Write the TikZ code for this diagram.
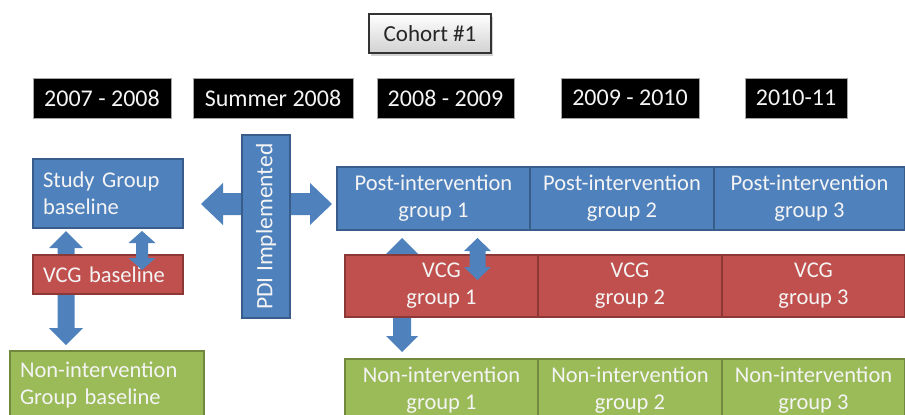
\documentclass[tikz,border=0pt]{standalone}
\usepackage{fontspec}
\setmainfont{Carlito}
\usetikzlibrary{shadows}
\definecolor{bfill}{HTML}{4F81BD}
\definecolor{bline}{HTML}{385D8A}
\definecolor{rfill}{HTML}{C0504D}
\definecolor{rline}{HTML}{8C3836}
\definecolor{gfill}{HTML}{9BBB59}
\definecolor{gline}{HTML}{71893F}
\definecolor{txtw}{HTML}{F4F4F4}
\tikzset{
  base/.style={inner sep=0pt, outer sep=0pt, line width=1.2pt, font=\fontsize{22.5}{27}\selectfont, align=center, text=txtw},
  bluebox/.style={base, fill=bfill, draw=bline},
  redbox/.style={base, fill=rfill, draw=rline},
  greenbox/.style={base, fill=gfill, draw=gline},
  yearbox/.style={base, fill=black, draw=gray!70, line width=0.8pt, minimum height=40pt, font=\fontsize{24}{28}\selectfont},
  cohortbox/.style={base, text=black!85, draw=black!80, line width=2pt, top color=white, bottom color=black!18,
     font=\fontsize{23}{27}\selectfont,
     drop shadow={shadow xshift=2pt, shadow yshift=-3pt, fill=black!35}},
  arrowfill/.style={fill=bfill}
}
\newcommand{\vdarrow}[6]{% cx, ytop, ybot, shaft half, head half, head length
  \fill[arrowfill] (#1,#2) -- (#1+#5,#2+#6) -- (#1+#4,#2+#6) -- (#1+#4,#3-#6) -- (#1+#5,#3-#6) -- (#1,#3)
   -- (#1-#5,#3-#6) -- (#1-#4,#3-#6) -- (#1-#4,#2+#6) -- (#1-#5,#2+#6) -- cycle;}
\newcommand{\hdarrow}[6]{% cy, xleft, xright, shaft half, head half, head length
  \fill[arrowfill] (#2,#1) -- (#2+#6,#1-#5) -- (#2+#6,#1-#4) -- (#3-#6,#1-#4) -- (#3-#6,#1-#5) -- (#3,#1)
   -- (#3-#6,#1+#5) -- (#3-#6,#1+#4) -- (#2+#6,#1+#4) -- (#2+#6,#1+#5) -- cycle;}
\begin{document}
\begin{tikzpicture}[x=1pt,y=-1pt]
\useasboundingbox (0,0) rectangle (905,415);
\begin{scope}
\clip (0,0) rectangle (905,415);
% title
\node[cohortbox, minimum width=122pt, minimum height=39pt] (cohort) at (430,33.5) {Cohort \#1};
% years
\node[yearbox, minimum width=138pt] (y1) at (102,98) {2007 - 2008};
\node[yearbox, minimum width=160pt] (y2) at (273,98) {Summer 2008};
\node[yearbox, minimum width=137pt] (y3) at (445.5,98) {2008 - 2009};
\node[yearbox, minimum width=138pt] (y4) at (630,98) {2009 - 2010};
\node[yearbox, minimum width=102pt] (y5) at (796,98) {2010-11};
% arrows behind boxes
\hdarrow{204}{201}{332}{11}{21}{22}
\vdarrow{66}{231}{345}{8.5}{17}{17}
\vdarrow{402}{238}{352}{9}{16}{16}
% left column
\node[bluebox, minimum width=150pt, minimum height=69pt, text width=130pt, align=left] (study) at (108,193.5) {Study Group\\baseline};
\node[redbox, minimum width=150pt, minimum height=39pt, text width=130pt, align=left] (vcgb) at (108,274.5) {VCG baseline};
\node[greenbox, minimum width=194pt, minimum height=69pt, text width=174pt, align=left] (nonb) at (107,385.5) {Non-intervention\\Group baseline};
\node[bluebox, minimum width=48pt, minimum height=183pt] (pdi) at (266,226.5) {};
\node[base, rotate=90, font=\fontsize{23.5}{27}\selectfont] (pdit) at (pdi.center) {PDI Implemented};
% post-intervention row
\node[bluebox, minimum width=193pt, minimum height=63pt] (p1) at (433.5,198.5) {Post-intervention\\group 1};
\node[bluebox, minimum width=184pt, minimum height=63pt] (p2) at (622,198.5) {Post-intervention\\group 2};
\node[bluebox, minimum width=191pt, minimum height=63pt] (p3) at (809.5,198.5) {Post-intervention\\group 3};
% VCG row
\node[redbox, minimum width=193pt, minimum height=62pt] (v1) at (441.5,286) {VCG\\group 1};
\node[redbox, minimum width=184pt, minimum height=62pt] (v2) at (630,286) {VCG\\group 2};
\node[redbox, minimum width=183pt, minimum height=62pt] (v3) at (813.5,286) {VCG\\group 3};
% non-intervention row
\node[greenbox, minimum width=193pt, minimum height=63pt] (n1) at (441.5,390.5) {Non-intervention\\group 1};
\node[greenbox, minimum width=184pt, minimum height=63pt] (n2) at (630,390.5) {Non-intervention\\group 2};
\node[greenbox, minimum width=183pt, minimum height=63pt] (n3) at (813.5,390.5) {Non-intervention\\group 3};
% arrows on top
\vdarrow{142}{231}{270}{6}{13.5}{12}
\vdarrow{477.5}{238}{280}{8}{13.5}{13}
\end{scope}
\end{tikzpicture}
\end{document}
